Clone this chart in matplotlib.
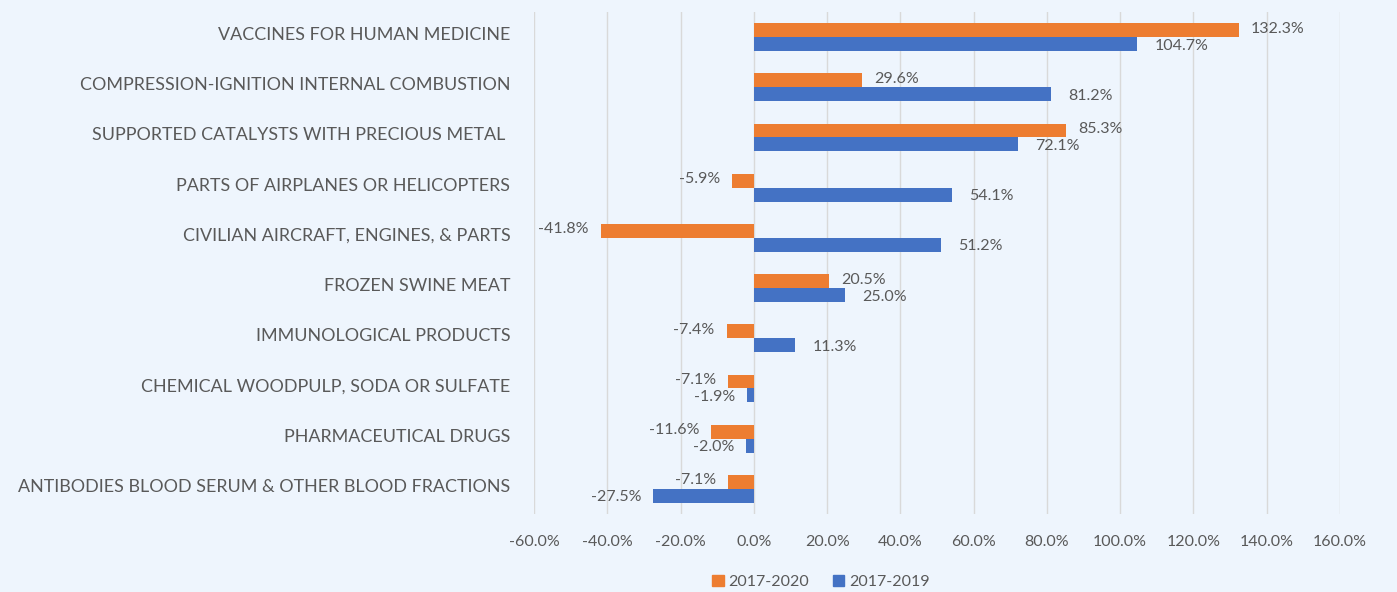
import matplotlib
matplotlib.use("Agg")
import matplotlib.pyplot as plt
import numpy as np
from matplotlib.patches import Patch

categories = [
    "VACCINES FOR HUMAN MEDICINE",
    "COMPRESSION-IGNITION INTERNAL COMBUSTION",
    "SUPPORTED CATALYSTS WITH PRECIOUS METAL ",
    "PARTS OF AIRPLANES OR HELICOPTERS",
    "CIVILIAN AIRCRAFT, ENGINES, & PARTS",
    "FROZEN SWINE MEAT",
    "IMMUNOLOGICAL PRODUCTS",
    "CHEMICAL WOODPULP, SODA OR SULFATE",
    "PHARMACEUTICAL DRUGS",
    "ANTIBODIES BLOOD SERUM & OTHER BLOOD FRACTIONS",
]
s2020 = [132.3, 29.6, 85.3, -5.9, -41.8, 20.5, -7.4, -7.1, -11.6, -7.1]
s2019 = [104.7, 81.2, 72.1, 54.1, 51.2, 25.0, 11.3, -1.9, -2.0, -27.5]
series_names = ["2017-2020", "2017-2019"]
xticks = [-60, -40, -20, 0, 20, 40, 60, 80, 100, 120, 140, 160]

ORANGE = "#ED7D31"
BLUE = "#4472C4"
TXT = "#595959"
BG = "#EEF5FD"

plt.rcParams['font.family'] = ['Lato', 'DejaVu Sans']

fig = plt.figure(figsize=(13.97, 5.92), dpi=100, facecolor=BG)
ax = fig.add_axes([534/1397, 1-514/592, (1340-534)/1397, (514-12)/592])
ax.set_facecolor(BG)

y = np.arange(len(categories))
h = 0.275
ax.barh(y - h/2, s2020, height=h, color=ORANGE, zorder=3)
ax.barh(y + h/2, s2019, height=h, color=BLUE, zorder=3)

ax.set_ylim(len(categories) - 0.5, -0.5)
ax.set_xlim(-60, 160)
ax.set_xticks(xticks)
ax.set_xticklabels([f"{v:.1f}%" for v in xticks], color=TXT, fontsize=11.5)
ax.set_yticks(y - 0.07)
ax.set_yticklabels(categories, color=TXT, fontsize=12.9)
ax.tick_params(axis='both', length=0)
ax.tick_params(axis='y', pad=17)
ax.tick_params(axis='x', pad=15)
ax.grid(axis='x', color="#D9D9D9", lw=1, zorder=0)
for sp in ax.spines.values():
    sp.set_visible(False)

for vals, off, dy, dx in [(s2020, -h/2, -0.03, 12), (s2019, h/2, 0.03, 17)]:
    for i, v in enumerate(vals):
        if v >= 0:
            ax.annotate(f"{v:.1f}%", (v, i + off + dy), xytext=(dx, 0), textcoords='offset pixels',
                        ha='left', va='center', color=TXT, fontsize=11.5)
        else:
            ax.annotate(f"{v:.1f}%", (v, i + off + dy), xytext=(-12, 0), textcoords='offset pixels',
                        ha='right', va='center', color=TXT, fontsize=11.5)

handles = [Patch(color=ORANGE), Patch(color=BLUE)]
fig.legend(handles, series_names, loc='center', bbox_to_anchor=(821/1397, 1-582/592), ncol=2,
           frameon=False, fontsize=11.5, labelcolor=TXT, handlelength=0.7, handleheight=0.7,
           handletextpad=0.3, columnspacing=1.5)

fig.savefig("out.png", dpi=100, facecolor=BG)
